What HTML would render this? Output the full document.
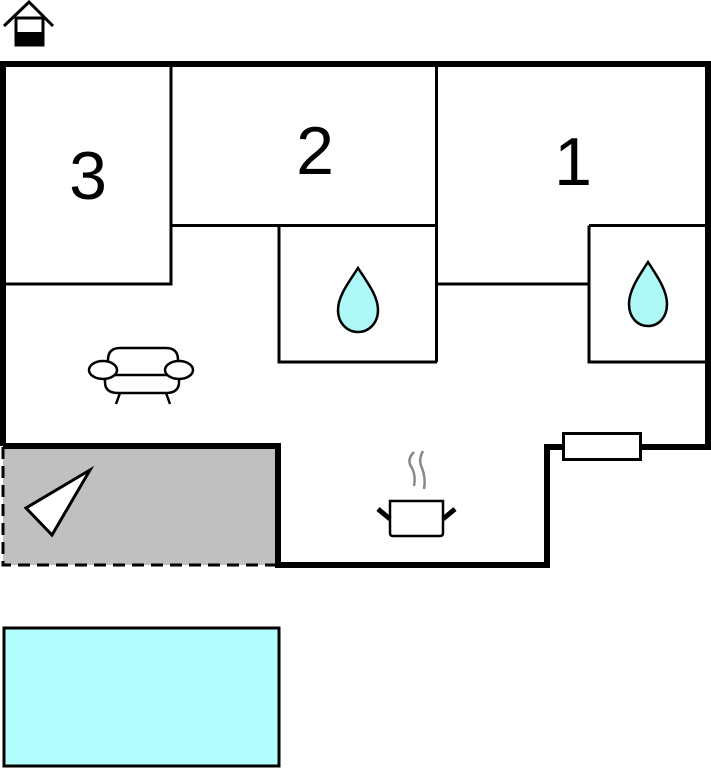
<!DOCTYPE html>
<html><head><meta charset="utf-8"><style>
html,body{margin:0;padding:0;background:#fff;width:711px;height:768px;overflow:hidden}
svg{display:block}
text{font-family:"Liberation Sans",sans-serif;fill:#000}
</style></head><body>
<svg width="711" height="768" viewBox="0 0 711 768" xmlns="http://www.w3.org/2000/svg">
<!-- terrace -->
<rect x="3" y="447" width="275" height="118" fill="#c0c0c0"/>
<path d="M3 447 V565 H278" fill="none" stroke="#000" stroke-width="3" stroke-dasharray="12,7"/>
<!-- inner walls -->
<g stroke="#000" stroke-width="3" fill="none">
<path d="M171 64 V284 H3"/>
<path d="M171 225.5 H437"/>
<path d="M436.5 64 V362"/>
<path d="M279 225.5 V362 H437"/>
<path d="M437 284 H589"/>
<path d="M589 225.5 H708 M589 225.5 V362 H708"/>
</g>
<!-- outer walls -->
<path d="M3 446 V64 H708 V447 H547 V565 H278 V446 H3" fill="none" stroke="#000" stroke-width="6" stroke-linejoin="miter"/>
<!-- radiator -->
<rect x="563.5" y="433.5" width="77" height="26" fill="#fff" stroke="#000" stroke-width="3"/>
<!-- labels -->
<text x="88" y="199" font-size="68" text-anchor="middle">3</text>
<text x="315" y="174" font-size="68" text-anchor="middle">2</text>
<text x="573" y="185" font-size="68" text-anchor="middle">1</text>
<!-- drops -->
<path d="M358 268 C349 282 338 296 338 310 C338 323 347 332 358 332 C369 332 378 323 378 310 C378 296 367 282 358 268Z" fill="#aef8f8" stroke="#000" stroke-width="2.5"/>
<path d="M648 262 C639 276 629 290 629 304 C629 317 637 326 648 326 C659 326 667 317 667 304 C667 290 657 276 648 262Z" fill="#aef8f8" stroke="#000" stroke-width="2.5"/>
<!-- sofa -->
<g fill="#fff" stroke="#000" stroke-width="2.5">
<path d="M108 374 V360 Q108 348 120 348 H166 Q178 348 178 360 V374"/>
<path d="M105 375 V382 Q105 393 118 393 H166 Q179 393 179 382 V375 Z"/>
<ellipse cx="103" cy="370" rx="14" ry="9"/>
<ellipse cx="179" cy="370" rx="14" ry="9"/>
<path d="M120 393 L116 404 M166 393 L170 404" fill="none"/>
</g>
<!-- triangle -->
<path d="M90 470 L26 508 L52 535 Z" fill="#fff" stroke="#000" stroke-width="3" stroke-linejoin="miter"/>
<!-- pot -->
<g>
<path d="M414 452 Q406 460 412 468 Q416 476 414 486 M423 451 Q418 460 422 468 Q426 478 424 489" fill="none" stroke="#888" stroke-width="2.5"/>
<path d="M390 501 H443 V533 Q443 536 440 536 H393 Q390 536 390 533 Z" fill="#fff" stroke="#000" stroke-width="2.5"/>
<path d="M378 509 L390 519 M455 509 L443 519" stroke="#000" stroke-width="5"/>
</g>
<!-- pool -->
<rect x="4" y="628" width="275" height="138" fill="#b3ffff" stroke="#000" stroke-width="3"/>
<!-- house icon -->
<path d="M4 26 L29 2 L53 26" fill="none" stroke="#000" stroke-width="3"/>
<rect x="16" y="18" width="27" height="27" fill="#fff" stroke="#000" stroke-width="3"/>
<rect x="16" y="32" width="27" height="13" fill="#000"/>
</svg>
</body></html>
